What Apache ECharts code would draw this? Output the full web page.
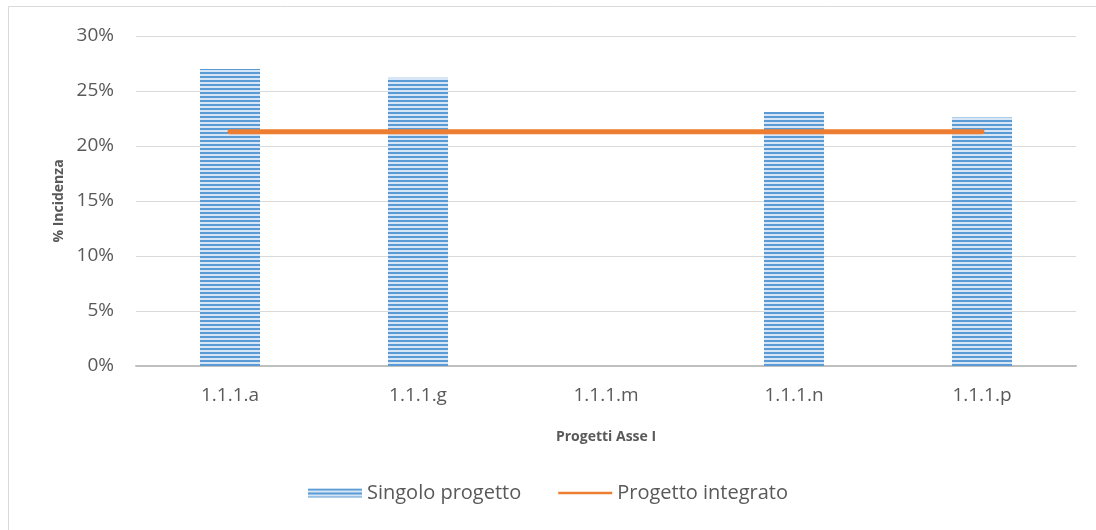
<!DOCTYPE html>
<html><head><meta charset="utf-8">
<script src="https://cdn.jsdelivr.net/npm/echarts@6/dist/echarts.min.js"></script>
<style>html,body{margin:0;padding:0;background:#fff}#c{width:1096px;height:530px}</style>
</head><body><div id="c"></div>
<script>
const categories = ['1.1.1.a', '1.1.1.g', '1.1.1.m', '1.1.1.n', '1.1.1.p'];
const singoloProgetto = [0.270, 0.262, null, 0.231, 0.226];
const progettoIntegrato = [0.213, 0.213, 0.213, 0.213, 0.213];
const yTicks = [0, 0.05, 0.10, 0.15, 0.20, 0.25, 0.30];

function stripe(){
  const c = document.createElement('canvas');
  c.width = 4; c.height = 4;
  const g = c.getContext('2d');
  g.fillStyle = '#d6e6f6'; g.fillRect(0,0,4,4);
  g.fillStyle = '#5b9bd5'; g.fillRect(0,0,4,2);
  return c;
}
const pat = {image: stripe(), repeat: 'repeat'};
const font = '"Open Sans", "Noto Sans", sans-serif';
const chart = echarts.init(document.getElementById('c'));
chart.setOption({
  animation: false,
  textStyle: {fontFamily: font},
  graphic: [{type:'rect', shape:{x:8.5,y:6.5,width:1100,height:540}, style:{fill:'none', stroke:'#d9d9d9', lineWidth:1}, silent:true}],
  grid: {left:136, right:20, top:36, bottom:164},
  legend: {
    bottom: 22, left: 'center', itemGap: 37, itemWidth: 54, itemHeight: 9,
    textStyle: {fontSize: 20, color:'#595959', fontFamily: font},
    data: [
      {name:'Singolo progetto', icon:'rect'},
      {name:'Progetto integrato', icon:'path://M0,2.5 L100,2.5 L100,7.5 L0,7.5 Z', itemStyle:{color:'#ed7d31'}}
    ]
  },
  xAxis: {
    type:'category', data: categories,
    name: 'Progetti Asse I', nameLocation:'middle', nameGap: 64,
    nameTextStyle: {fontSize: 14, fontWeight:'bold', color:'#595959'},
    axisLine: {lineStyle:{color:'#bfbfbf', width:2}},
    axisTick: {show:false},
    axisLabel: {fontSize: 19, color:'#595959', margin: 20}
  },
  yAxis: {
    type:'value', min: 0, max: 0.30, interval: 0.05,
    name: '% Incidenza', nameLocation:'middle', nameGap: 70, nameRotate: 90,
    nameTextStyle: {fontSize: 14, fontWeight:'bold', color:'#595959'},
    axisLabel: {fontSize: 19, color:'#595959', margin: 22,
      formatter: v => Math.round(v*100) + '%'},
    splitLine: {lineStyle:{color:'#d9d9d9', width:1}},
    axisLine: {show:false}, axisTick:{show:false}
  },
  series: [
    {name:'Singolo progetto', type:'bar', data: singoloProgetto, barWidth: 60,
     itemStyle:{color: pat}},
    {name:'Progetto integrato', type:'line', data: progettoIntegrato, symbol:'none',
     lineStyle:{color:'#ed7d31', width:5, cap:'round'}, itemStyle:{color:'#ed7d31'}}
  ]
});
</script></body></html>
